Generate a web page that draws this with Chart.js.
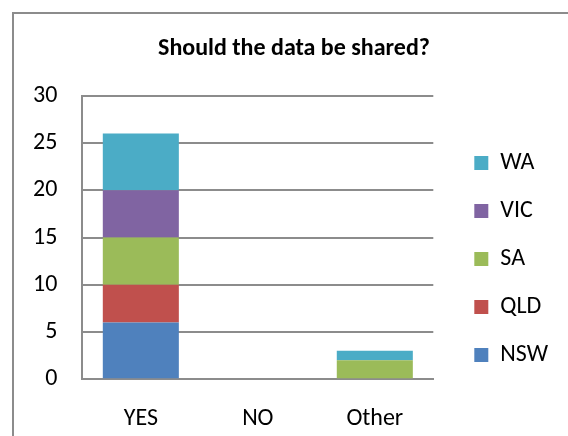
<!DOCTYPE html>
<html>
<head>
<meta charset="utf-8">
<script src="https://cdn.jsdelivr.net/npm/chart.js@4"></script>
<style>
  html, body { margin: 0; padding: 0; overflow: hidden; background: #fff; }
  #frame { position: absolute; left: 12px; top: 12px; width: 600px; height: 500px; border: 2px solid #8c8c8c; box-sizing: border-box; }
  #wrap { position: absolute; left: 0; top: 0; width: 568px; height: 436px; }
</style>
</head>
<body>
<div id="frame"></div>
<div id="wrap"><canvas id="chart"></canvas></div>
<script>
'use strict';

const categories = ['YES', 'NO', 'Other'];
const regions = ['NSW', 'QLD', 'SA', 'VIC', 'WA'];
const nswValues = [6, 0, 0];
const qldValues = [4, 0, 0];
const saValues = [5, 0, 2];
const vicValues = [5, 0, 0];
const waValues = [6, 0, 1];
const yTicks = [0, 5, 10, 15, 20, 25, 30];

const colors = ['#4f81bd', '#c0504d', '#9bbb59', '#8064a2', '#4bacc6'];
const seriesValues = [nswValues, qldValues, saValues, vicValues, waValues];

const fontFamily = 'Carlito, Lato, "Open Sans", sans-serif';
const gridColor = '#8c8c8c';
const legendGap = 17;

// push the legend a bit away from the plot area
const legendGapPlugin = {
  id: 'legendGap',
  beforeLayout(chart) {
    let legend = chart.legend;
    if (!legend || legend._gapDone) return;
    let fit = legend.fit;
    let draw = legend.draw;
    legend.fit = function () { fit.call(this); this.width += legendGap; };
    legend.draw = function () {
      let ctx = this.ctx;
      ctx.save();
      ctx.translate(legendGap, 0);
      draw.call(this);
      ctx.restore();
    };
    legend._gapDone = true;
  }
};

let data = {
  labels: categories,
  datasets: regions.map((name, i) => ({
    label: name,
    data: seriesValues[i],
    backgroundColor: colors[i],
    borderWidth: 0,
    barPercentage: 0.65,
    categoryPercentage: 1
  }))
};

let config = {
  type: 'bar',
  data: data,
  plugins: [legendGapPlugin],
  options: {
    responsive: false,
    animation: false,
    layout: { padding: { left: 30, right: 10, top: 12, bottom: 0 } },
    plugins: {
      title: {
        display: true,
        text: 'Should the data be shared?',
        color: '#000',
        font: { family: fontFamily, size: 24, weight: 'bold' },
        padding: { top: 23, bottom: 32 }
      },
      legend: {
        position: 'right',
        reverse: true,
        title: { display: true, text: ' ', font: { size: 10 }, padding: { top: 29, bottom: 29 } },
        labels: {
          color: '#000',
          font: { family: fontFamily, size: 24 },
          boxWidth: 14,
          boxHeight: 14,
          padding: 24
        }
      },
      tooltip: { enabled: false }
    },
    scales: {
      x: {
        stacked: true,
        grid: { display: true, drawOnChartArea: false, drawTicks: true, tickLength: 22, tickColor: 'transparent' },
        border: { display: true, color: gridColor, width: 2 },
        ticks: { color: '#000', font: { family: fontFamily, size: 24 }, padding: 3 }
      },
      y: {
        stacked: true,
        min: 0,
        max: 30,
        afterBuildTicks: scale => { scale.ticks = yTicks.map(v => ({ value: v })); },
        grid: { color: gridColor, lineWidth: 2, drawTicks: true, tickLength: 22, tickColor: 'transparent' },
        border: { display: true, color: gridColor, width: 2 },
        ticks: { color: '#000', font: { family: fontFamily, size: 24 }, padding: 3 }
      }
    }
  }
};

let canvasElem = document.getElementById('chart');
canvasElem.width = 568;
canvasElem.height = 436;
new Chart(canvasElem, config);
</script>
</body>
</html>
